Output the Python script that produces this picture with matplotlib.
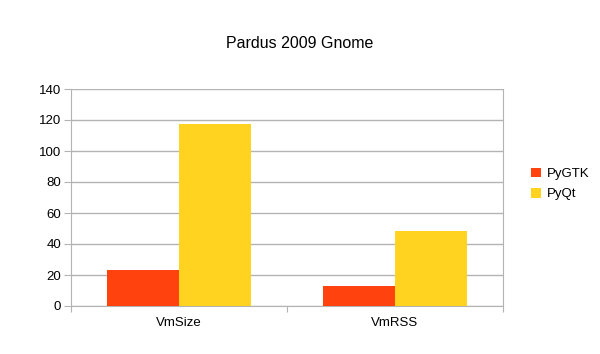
import numpy as np
import matplotlib.pyplot as plt

plt.rcParams['font.family'] = ['Liberation Sans', 'DejaVu Sans']

categories = ["VmSize", "VmRSS"]
series_names = ["PyGTK", "PyQt"]
pygtk = [23.2, 13.1]
pyqt = [117.4, 48.2]
y_ticks = [0, 20, 40, 60, 80, 100, 120, 140]

colors = ["#ff420e", "#ffd320"]

fig = plt.figure(figsize=(6, 3.54), dpi=100)
ax = fig.add_axes([71 / 600, 48 / 354, 432 / 600, 217 / 354])

x = np.arange(len(categories)) + 0.5
w = 1 / 3
ax.bar(x - w / 2, pygtk, w, color=colors[0], label=series_names[0], zorder=3)
ax.bar(x + w / 2, pyqt, w, color=colors[1], label=series_names[1], zorder=3)

ax.set_xlim(0, len(categories))
ax.set_ylim(0, 140)
ax.set_yticks(y_ticks)
ax.yaxis.grid(True, color="#b3b3b3", linewidth=1, zorder=0)

# category separators as major ticks, labels on minor ticks
ax.set_xticks(np.arange(len(categories) + 1))
ax.set_xticklabels([])
ax.set_xticks(x, minor=True)
ax.set_xticklabels(categories, minor=True)
ax.tick_params(axis="x", which="minor", length=0, pad=8, labelsize=9.5)
ax.tick_params(axis="x", which="major", length=4.5, color="#b3b3b3")
ax.tick_params(axis="y", length=5, pad=2, color="#b3b3b3", labelsize=9.5)

for side in ["top", "right", "left", "bottom"]:
    ax.spines[side].set_color("#b3b3b3")
ax.spines["top"].set_visible(False)

fig.suptitle("Pardus 2009 Gnome", x=0.5, y=1 - 44 / 354, va="center", fontsize=11.5)

fig.legend(loc="center left", bbox_to_anchor=(519 / 600, 1 - 184 / 354),
           frameon=False, fontsize=9.5, handlelength=0.75, handleheight=0.75,
           handletextpad=0.45, labelspacing=0.6)

plt.savefig("out.png")
